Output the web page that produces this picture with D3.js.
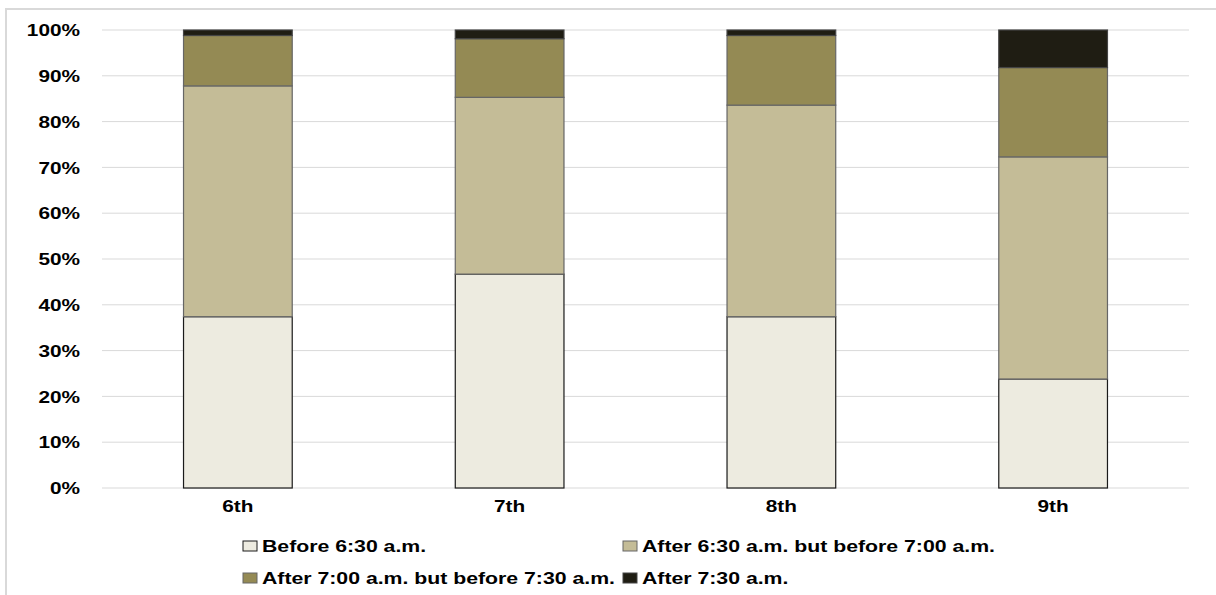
<!DOCTYPE html>
<html>
<head>
<meta charset="utf-8">
<script src="https://cdn.jsdelivr.net/npm/d3@7/dist/d3.min.js"></script>
<style>
html,body{margin:0;padding:0;background:#fff;}
svg{display:block;}
text{font-family:"Liberation Sans",Arial,sans-serif;font-weight:bold;fill:#000;}
</style>
</head>
<body>
<svg id="chart" width="1216" height="595"></svg>
<script>
const categories = ["6th", "7th", "8th", "9th"];
const seriesNames = ["Before 6:30 a.m.", "After 6:30 a.m. but before 7:00 a.m.", "After 7:00 a.m. but before 7:30 a.m.", "After 7:30 a.m."];
const before630 = [37.4, 46.7, 37.4, 23.8];
const between630and700 = [50.4, 38.6, 46.2, 48.5];
const between700and730 = [11.0, 12.8, 15.2, 19.5];
const after730 = [1.2, 1.9, 1.2, 8.2];
const yTicks = [0, 10, 20, 30, 40, 50, 60, 70, 80, 90, 100];

const colors = ["#EDEBE0", "#C4BC97", "#948A54", "#1F1D13"];
const strokes = ["#1a1a1a", "#666", "#666", "#444"];

const svg = d3.select("#chart");
// outer frame
svg.append("rect").attr("x", 6).attr("y", 9).attr("width", 1220).attr("height", 600)
  .attr("fill", "none").attr("stroke", "#d9d9d9").attr("stroke-width", 2);

const plot = {left: 102, right: 1189, top: 30, bottom: 488};
const x = d3.scaleBand().domain(categories).range([plot.left, plot.right]).padding(0);
const y = d3.scaleLinear().domain([0, 100]).range([plot.bottom, plot.top]);
const barW = x.bandwidth() * 0.4;

// gridlines
svg.append("g").selectAll("line").data(yTicks).join("line")
  .attr("x1", plot.left).attr("x2", plot.right)
  .attr("y1", d => y(d)).attr("y2", d => y(d))
  .attr("stroke", "#d9d9d9").attr("stroke-width", 1);

// y axis labels
const yAxis = d3.axisLeft(y).tickValues(yTicks).tickFormat(d => d + "%").tickSize(0).tickPadding(0);
const gy = svg.append("g").attr("transform", `translate(80,0)`).call(yAxis);
gy.select(".domain").remove();
gy.selectAll("text").attr("font-size", 16).attr("font-family", "Liberation Sans, Arial, sans-serif")
  .attr("font-weight", "bold").attr("fill", "#000").attr("x", 0).attr("dy", "0.36em")
  .attr("transform", "scale(1.3,1)");

// x axis labels
const xAxis = d3.axisBottom(x).tickSize(0).tickPadding(0);
const gx = svg.append("g").attr("transform", `translate(0,${plot.bottom + 13})`).call(xAxis);
gx.select(".domain").remove();
gx.selectAll("text").attr("font-size", 16).attr("font-family", "Liberation Sans, Arial, sans-serif")
  .attr("font-weight", "bold").attr("fill", "#000").attr("dy", "0.71em")
  .attr("transform", "scale(1.3,1)");

// stacked data
const rows = categories.map((c, i) => ({cat: c, s0: before630[i], s1: between630and700[i], s2: between700and730[i], s3: after730[i]}));
const stack = d3.stack().keys(["s0", "s1", "s2", "s3"])(rows);

stack.forEach((layer, li) => {
  svg.append("g").selectAll("rect").data(layer).join("rect")
    .attr("x", d => x(d.data.cat) + (x.bandwidth() - barW) / 2)
    .attr("width", barW)
    .attr("y", d => y(d[1]))
    .attr("height", d => y(d[0]) - y(d[1]))
    .attr("fill", colors[li])
    .attr("stroke", strokes[li])
    .attr("stroke-width", 1.2);
});

// legend
const legendItems = [
  {name: seriesNames[0], c: colors[0], s: strokes[0], x: 243, y: 546},
  {name: seriesNames[1], c: colors[1], s: strokes[1], x: 623, y: 546},
  {name: seriesNames[2], c: colors[2], s: strokes[2], x: 243, y: 578},
  {name: seriesNames[3], c: colors[3], s: strokes[3], x: 623, y: 578}
];
const lg = svg.append("g").selectAll("g").data(legendItems).join("g")
  .attr("transform", d => `translate(${d.x},${d.y})`);
lg.append("rect").attr("x", 0).attr("y", -5).attr("width", 14).attr("height", 10)
  .attr("fill", d => d.c).attr("stroke", d => d.s).attr("stroke-width", 1);
lg.append("g").attr("transform", "translate(19,0) scale(1.25,1)")
  .append("text").attr("x", 0).attr("y", 0).attr("dy", "0.36em")
  .attr("font-size", 17).text(d => d.name);
</script>
</body>
</html>
